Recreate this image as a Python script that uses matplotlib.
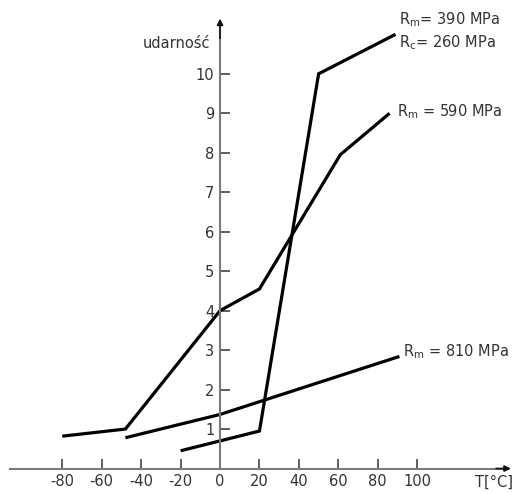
import matplotlib
matplotlib.use("Agg")
import matplotlib.pyplot as plt

# data
t_390 = [-20, 20, 50, 89]
u_390 = [0.45, 0.95, 10.0, 11.0]
t_590 = [-80, -48, 0, 20, 61, 86]
u_590 = [0.82, 1.0, 4.0, 4.55, 7.95, 9.0]
t_810 = [-48, 0, 91]
u_810 = [0.78, 1.37, 2.84]
x_ticks = [-80, -60, -40, -20, 0, 20, 40, 60, 80, 100]
y_ticks = [1, 2, 3, 4, 5, 6, 7, 8, 9, 10]

fig = plt.figure(figsize=(5.15, 4.93), dpi=100)
ax = fig.add_axes([0, 0, 1, 1])
ax.set_xlim(-111.6, 149.6)
ax.set_ylim(-0.62, 11.87)

axis_col = "#7a7a7a"
txt_col = "#333333"
fs = 10.5

for s in ["top", "right"]:
    ax.spines[s].set_visible(False)
ax.spines["left"].set_position(("data", 0))
ax.spines["bottom"].set_position(("data", 0))
ax.spines["left"].set_bounds(0, 11.2)
ax.spines["bottom"].set_bounds(-106.5, 146)
for s in ["left", "bottom"]:
    ax.spines[s].set_color(axis_col)
    ax.spines[s].set_linewidth(1.5)

ax.set_xticks(x_ticks)
ax.set_xticklabels([str(v) for v in x_ticks])
ax.set_yticks(y_ticks)
ax.set_yticklabels([str(v) for v in y_ticks])
ax.tick_params(axis="both", direction="in", length=7, width=1.1, color="#333333",
               labelsize=fs, labelcolor=txt_col, pad=4)

# arrows
ax.annotate("", xy=(0, 11.4), xytext=(0, 10.9),
            arrowprops=dict(arrowstyle="-|>", color="#111111", lw=1.2,
                            mutation_scale=9, shrinkA=0, shrinkB=0))
ax.annotate("", xy=(147.5, 0), xytext=(140, 0),
            arrowprops=dict(arrowstyle="-|>", color="#111111", lw=1.2,
                            mutation_scale=9, shrinkA=0, shrinkB=0))

lw = 2.3
for t, u in [(t_390, u_390), (t_590, u_590), (t_810, u_810)]:
    ax.plot(t, u, color="black", lw=lw, solid_joinstyle="miter", solid_capstyle="butt")

ax.text(91.0, 11.37, r"R$_\mathregular{m}$= 390 MPa", fontsize=fs, color=txt_col, va="center", ha="left")
ax.text(91.0, 10.78, r"R$_\mathregular{c}$= 260 MPa", fontsize=fs, color=txt_col, va="center", ha="left")
ax.text(90.0, 9.04, r"R$_\mathregular{m}$ = 590 MPa", fontsize=fs, color=txt_col, va="center", ha="left")
ax.text(93.0, 2.96, r"R$_\mathregular{m}$ = 810 MPa", fontsize=fs, color=txt_col, va="center", ha="left")
ax.text(-5, 10.78, "udarność", fontsize=fs, color=txt_col, va="center", ha="right")
ax.text(148.5, -0.35, "T[°C]", fontsize=fs, color=txt_col, va="center", ha="right")

fig.savefig("out.png", dpi=100)
